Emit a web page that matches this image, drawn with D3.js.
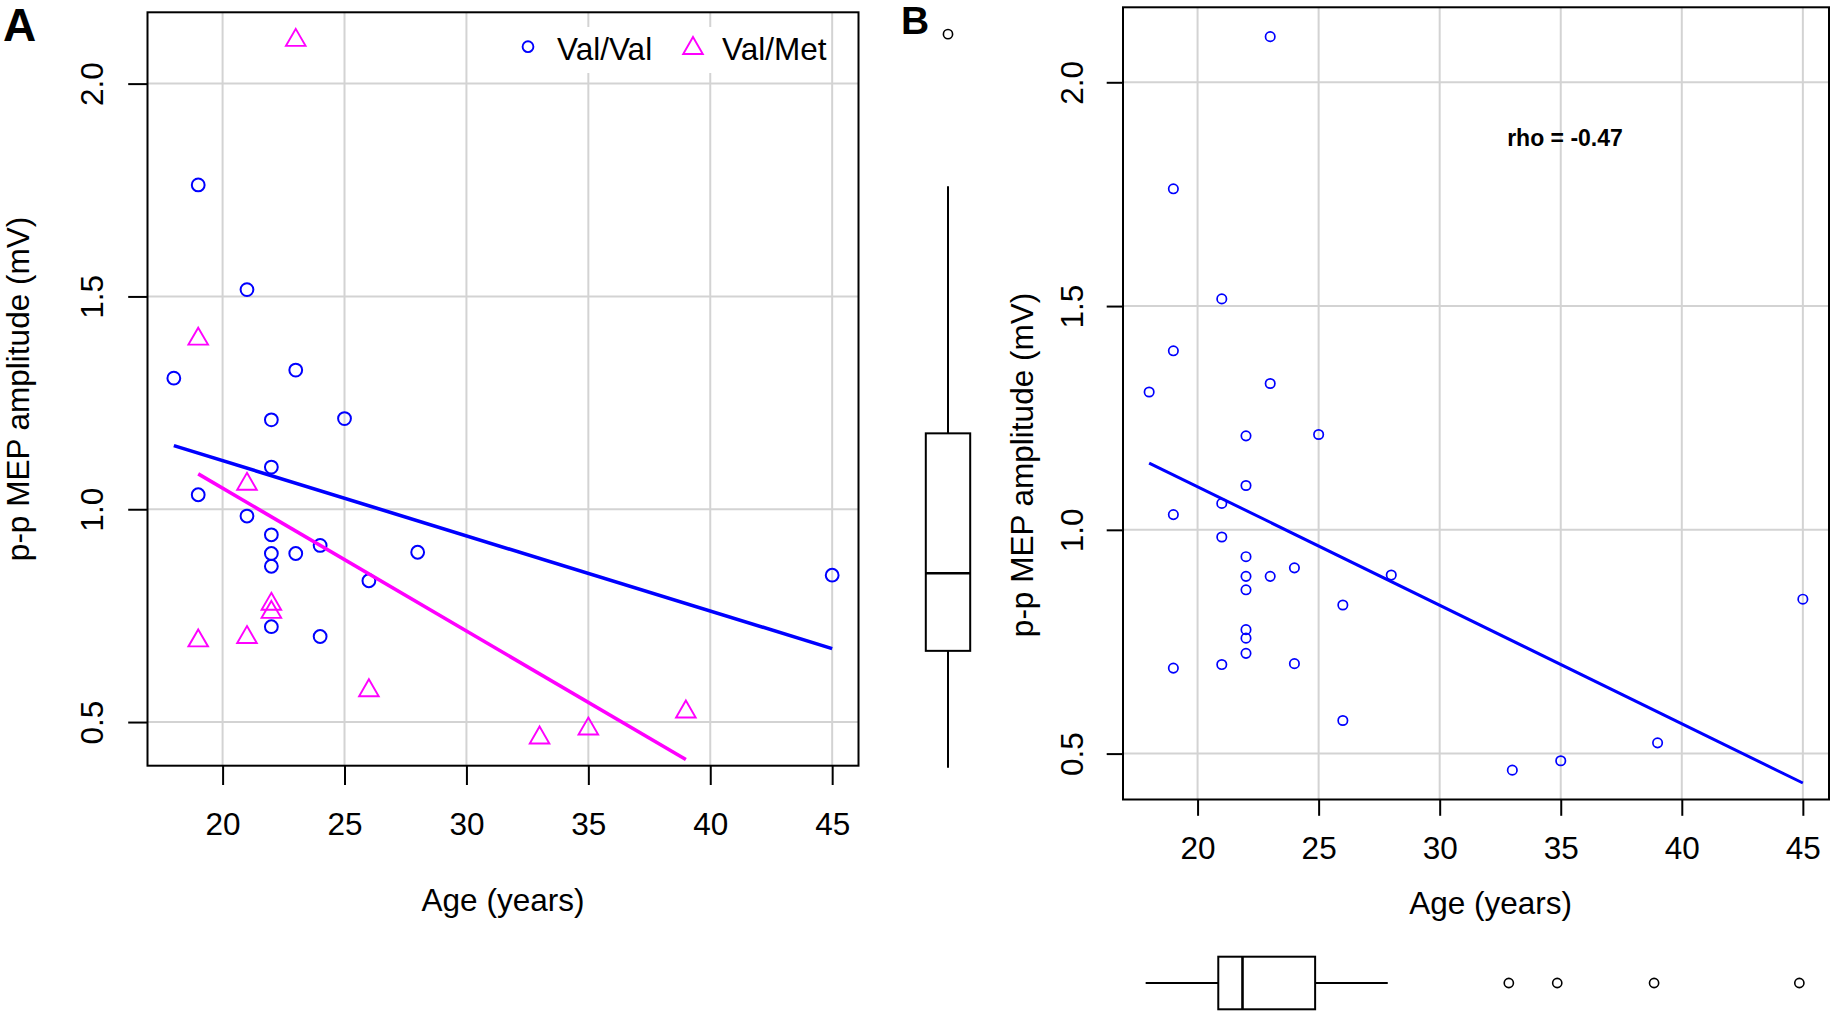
<!DOCTYPE html>
<html><head><meta charset="utf-8">
<script src="https://cdn.jsdelivr.net/npm/d3@7"></script>
<style>
body{margin:0;background:#fff}
svg{display:block}
text{font-family:"Liberation Sans",Arial,Helvetica,sans-serif;fill:#000}
</style>
</head><body>
<svg id="c" width="1831" height="1013"></svg>
<script>
// ---------- data ----------
const valValAge = [18,19,19,21,21,22,22,22,22,22,22,23,23,24,24,25,26,28,45];
const valValAmp = [1.308,1.762,1.034,1.516,0.984,1.210,1.099,0.940,0.896,0.866,0.724,1.327,0.896,0.915,0.701,1.213,0.832,0.899,0.845];
const valMetAge = [19,19,21,21,22,22,23,26,33,35,39];
const valMetAmp = [1.400,0.691,1.059,0.699,0.777,0.758,2.102,0.574,0.463,0.484,0.524];
const groupNames = ["Val/Val","Val/Met"];
const xTicks = [20,25,30,35,40,45];
const yTicks = [0.5,1.0,1.5,2.0];
const yTickLabels = ["0.5","1.0","1.5","2.0"];
const xTitle = "Age (years)";
const yTitle = "p-p MEP amplitude (mV)";
const panelLabels = ["A","B"];
const rhoLabel = "rho = -0.47";

const BLUE = "#0000ff", MAG = "#ff00ff", GRID = "#d3d3d3";
const FS = 31.5;

const svg = d3.select("#c");

// R-style axis range: data extent expanded by 4%
function rRange(v){ const [a,b]=d3.extent(v); const d=(b-a)*0.04; return [a-d,b+d]; }
function ols(xs, ys){
  const mx=d3.mean(xs), my=d3.mean(ys);
  let sxy=0,sxx=0; xs.forEach((x,i)=>{sxy+=(x-mx)*(ys[i]-my); sxx+=(x-mx)*(x-mx);});
  const b=sxy/sxx; return {b, a:my-b*mx, x0:d3.min(xs), x1:d3.max(xs)};
}
function fivenum(v){
  const x=v.slice().sort((a,b)=>a-b), n=x.length;
  const n4=Math.floor((n+3)/2)/2;
  const d=[1,n4,(n+1)/2,n+1-n4,n];
  return d.map(k=>0.5*(x[Math.floor(k)-1]+x[Math.ceil(k)-1]));
}
function boxStats(v){
  const f=fivenum(v), iqr=f[3]-f[1];
  const lo=f[1]-1.5*iqr, hi=f[3]+1.5*iqr;
  const inside=v.filter(d=>d>=lo&&d<=hi);
  return {q1:f[1], med:f[2], q3:f[3], wlo:d3.min(inside), whi:d3.max(inside), out:v.filter(d=>d<lo||d>hi)};
}

const allAge = valValAge.concat(valMetAge);
const allAmp = valValAmp.concat(valMetAmp);
const xDom = rRange(allAge), yDom = rRange(allAmp);

function tri(r){ // R pch=2 style triangle, centroid at origin
  const xc=r, top=1.1547*xc, yc=0.5774*xc;
  return `M0,${-top}L${xc},${yc}L${-xc},${yc}Z`;
}

function panel(o){
  const x=d3.scaleLinear().domain(xDom).range([o.l,o.r]);
  const y=d3.scaleLinear().domain(yDom).range([o.b,o.t]);
  const g=svg.append("g");
  // grid
  g.selectAll(".gx").data(xTicks).join("line")
    .attr("x1",d=>x(d)).attr("x2",d=>x(d)).attr("y1",o.t).attr("y2",o.b)
    .attr("stroke",GRID).attr("stroke-width",2);
  g.selectAll(".gy").data(yTicks).join("line")
    .attr("y1",d=>y(d)).attr("y2",d=>y(d)).attr("x1",o.l).attr("x2",o.r)
    .attr("stroke",GRID).attr("stroke-width",2);
  // axes
  const ax=g.append("g").attr("transform",`translate(0,${o.b})`)
    .call(d3.axisBottom(x).tickValues(xTicks).tickSizeInner(o.tick).tickSizeOuter(0).tickFormat(d3.format("d")));
  ax.select(".domain").remove();
  ax.selectAll("line").attr("stroke","#000").attr("stroke-width",2);
  ax.selectAll("text").attr("y",o.xLabBase).attr("dy",0).style("font-size",FS+"px").attr("fill","#000");
  const ay=g.append("g").attr("transform",`translate(${o.l},0)`)
    .call(d3.axisLeft(y).tickValues(yTicks).tickSizeInner(o.tick).tickSizeOuter(0).tickFormat((d,i)=>yTickLabels[i]));
  ay.select(".domain").remove();
  ay.selectAll("line").attr("stroke","#000").attr("stroke-width",2);
  ay.selectAll("text").attr("x",0).attr("y",0).attr("dy",0)
    .attr("transform",`translate(${-o.yLabOff},0) rotate(-90)`).attr("text-anchor","middle")
    .style("font-size",FS+"px").attr("fill","#000");
  // titles
  g.append("text").attr("x",o.xtX).attr("y",o.xtY).attr("text-anchor","middle").style("font-size",FS+"px").text(xTitle);
  g.append("text").attr("transform",`translate(${o.ytX},${o.ytY}) rotate(-90)`).attr("text-anchor","middle").style("font-size",FS+"px").text(yTitle);
  return {g,x,y};
}

// ---------- Panel A ----------
const A = panel({l:147.5,r:858.5,t:12.3,b:765.7,tick:19.3,xLabBase:69.3,yLabOff:44.5,
                 xtX:503,xtY:911,ytX:29,ytY:389});
{
  const {g,x,y}=A;
  g.selectAll(".vv").data(valValAge).join("circle")
    .attr("cx",d=>x(d)).attr("cy",(d,i)=>y(valValAmp[i])).attr("r",6.4)
    .attr("fill","none").attr("stroke",BLUE).attr("stroke-width",2);
  g.selectAll(".vm").data(valMetAge).join("path")
    .attr("d",tri(9.8)).attr("transform",(d,i)=>`translate(${x(d)},${y(valMetAmp[i])})`)
    .attr("fill","none").attr("stroke",MAG).attr("stroke-width",1.9);
  [[valValAge,valValAmp,BLUE],[valMetAge,valMetAmp,MAG]].forEach(([xs,ys,c])=>{
    const f=ols(xs,ys);
    g.append("line").attr("x1",x(f.x0)).attr("y1",y(f.a+f.b*f.x0))
      .attr("x2",x(f.x1)).attr("y2",y(f.a+f.b*f.x1))
      .attr("stroke",c).attr("stroke-width",3.6);
  });
  // legend
  g.append("rect").attr("x",506).attr("y",27).attr("width",325).attr("height",46).attr("fill","#fff");
  g.append("circle").attr("cx",528).attr("cy",46.7).attr("r",5.4).attr("fill","none").attr("stroke",BLUE).attr("stroke-width",1.9);
  g.append("text").attr("x",557).attr("y",60).style("font-size",FS+"px").text(groupNames[0]);
  g.append("path").attr("d",tri(9.8)).attr("transform","translate(693,48.3)").attr("fill","none").attr("stroke",MAG).attr("stroke-width",1.9);
  g.append("text").attr("x",722).attr("y",60).style("font-size",FS+"px").text(groupNames[1]);
  g.append("rect").attr("x",147.5).attr("y",12.3).attr("width",858.5-147.5).attr("height",765.7-12.3)
    .attr("fill","none").attr("stroke","#000").attr("stroke-width",2);
  g.append("text").attr("x",3).attr("y",40.7).style("font-size","46px").style("font-weight","bold").text(panelLabels[0]);
}

// ---------- Panel B ----------
const B = panel({l:1123,r:1829,t:7.3,b:799.5,tick:16.3,xLabBase:59.5,yLabOff:40,
                 xtX:1490.6,xtY:914,ytX:1033,ytY:465});
{
  const {g,x,y}=B;
  g.selectAll(".pt").data(allAge).join("circle")
    .attr("cx",d=>x(d)).attr("cy",(d,i)=>y(allAmp[i])).attr("r",4.7)
    .attr("fill","none").attr("stroke",BLUE).attr("stroke-width",1.7);
  const f=ols(allAge,allAmp);
  g.append("line").attr("x1",x(f.x0)).attr("y1",y(f.a+f.b*f.x0))
    .attr("x2",x(f.x1)).attr("y2",y(f.a+f.b*f.x1))
    .attr("stroke",BLUE).attr("stroke-width",3);
  g.append("text").attr("x",1565).attr("y",146).attr("text-anchor","middle")
    .style("font-size","23px").style("font-weight","bold").text(rhoLabel);
  g.append("rect").attr("x",1123).attr("y",7.3).attr("width",1829-1123).attr("height",799.5-7.3)
    .attr("fill","none").attr("stroke","#000").attr("stroke-width",2);
  g.append("text").attr("x",901).attr("y",34.3).style("font-size","39px").style("font-weight","bold").text(panelLabels[1]);

  // marginal boxplots use their own (slightly offset) copies of the main scales
  const yb=y.copy().range(y.range().map(v=>v-2.5));
  const xb=x.copy().range(x.range().map(v=>v-3.5));

  // vertical boxplot of amplitudes (left)
  const sY=boxStats(allAmp), cx=948, hw=22.2;
  const bg=svg.append("g").attr("stroke","#000").attr("fill","none");
  bg.append("line").attr("x1",cx).attr("x2",cx).attr("y1",yb(sY.whi)).attr("y2",yb(sY.q3)).attr("stroke-width",2);
  bg.append("line").attr("x1",cx).attr("x2",cx).attr("y1",yb(sY.q1)).attr("y2",yb(sY.wlo)).attr("stroke-width",2);
  bg.append("rect").attr("x",cx-hw).attr("width",2*hw).attr("y",yb(sY.q3)).attr("height",yb(sY.q1)-yb(sY.q3)).attr("stroke-width",2);
  bg.append("line").attr("x1",cx-hw).attr("x2",cx+hw).attr("y1",yb(sY.med)).attr("y2",yb(sY.med)).attr("stroke-width",2.6);
  bg.selectAll(".oy").data(sY.out).join("circle").attr("cx",cx).attr("cy",d=>yb(d)).attr("r",4.6).attr("stroke-width",1.6);

  // horizontal boxplot of ages (bottom)
  const sX=boxStats(allAge), cy=983, hh=26.3;
  bg.append("line").attr("y1",cy).attr("y2",cy).attr("x1",xb(sX.wlo)).attr("x2",xb(sX.q1)).attr("stroke-width",2);
  bg.append("line").attr("y1",cy).attr("y2",cy).attr("x1",xb(sX.q3)).attr("x2",xb(sX.whi)).attr("stroke-width",2);
  bg.append("rect").attr("y",cy-hh).attr("height",2*hh).attr("x",xb(sX.q1)).attr("width",xb(sX.q3)-xb(sX.q1)).attr("stroke-width",2);
  bg.append("line").attr("y1",cy-hh).attr("y2",cy+hh).attr("x1",xb(sX.med)).attr("x2",xb(sX.med)).attr("stroke-width",2.6);
  bg.selectAll(".ox").data(sX.out).join("circle").attr("cy",cy).attr("cx",d=>xb(d)).attr("r",4.6).attr("stroke-width",1.6);
}
</script>
</body></html>
